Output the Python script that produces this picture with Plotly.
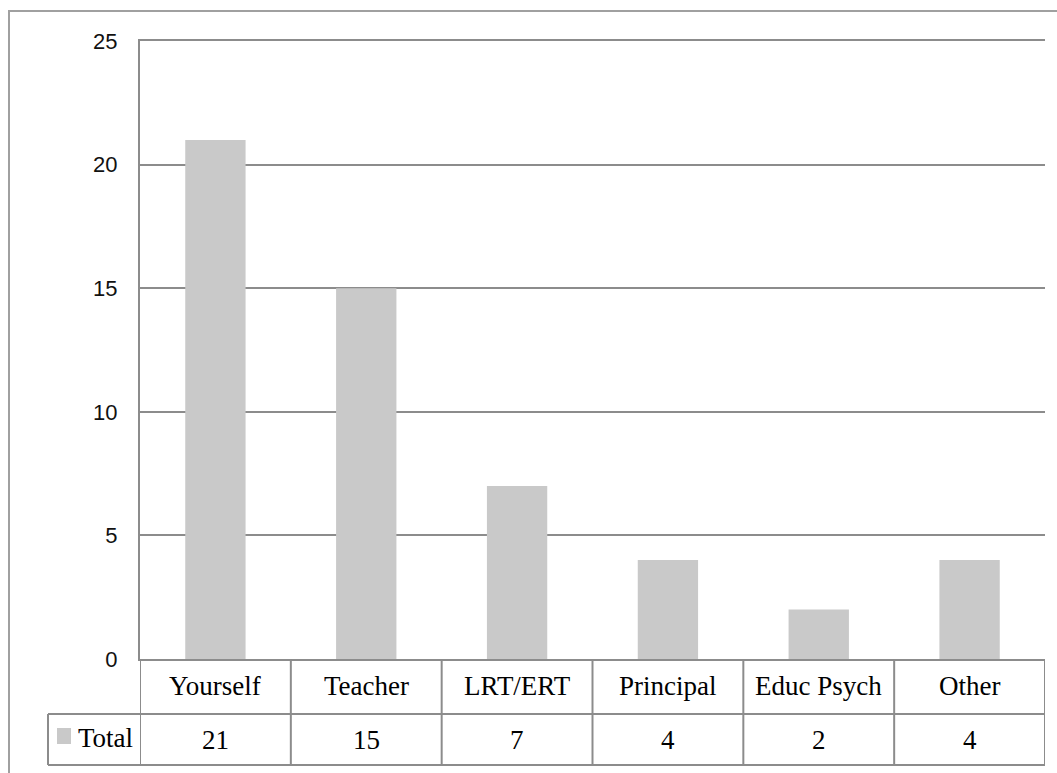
import plotly.graph_objects as go

categories = ["Yourself", "Teacher", "LRT/ERT", "Principal", "Educ Psych", "Other"]
totals = [21, 15, 7, 4, 2, 4]
series_name = "Total"
y_ticks = [0, 5, 10, 15, 20, 25]

BAR = "#c9c9c9"
GRID = "#8c8c8c"
FRAME = "#a0a0a0"
SERIF = "Liberation Serif, Times New Roman, serif"
SANS = "Liberation Sans, Arial, sans-serif"

W, H = 1057, 773
L, R, T, B = 140, 12, 41, 114
plot_h = H - T - B
plot_w = W - L - R
n = len(categories)

def py(px):  # pixel y -> paper y
    return (H - B - px) / plot_h

def px_(px):  # pixel x -> paper x
    return (px - L) / plot_w

xs = list(range(n))
fig = go.Figure(go.Bar(x=xs, y=totals, marker=dict(color=BAR, line=dict(width=0)),
                       width=0.4, name=series_name, hoverinfo="x+y"))

shapes = []
row1_bot = py(714)
row2_bot = py(765)
left_x = px_(48)
line = dict(color=GRID, width=2)
for i in range(n + 1):
    shapes.append(dict(type="line", xref="x", yref="paper", x0=i - 0.5, x1=i - 0.5,
                       y0=0, y1=row2_bot, line=line, layer="above"))
shapes.append(dict(type="line", xref="paper", yref="paper", x0=left_x, x1=1,
                   y0=row1_bot, y1=row1_bot, line=line))
shapes.append(dict(type="line", xref="paper", yref="paper", x0=left_x, x1=1,
                   y0=row2_bot, y1=row2_bot, line=line))
shapes.append(dict(type="line", xref="paper", yref="paper", x0=left_x, x1=left_x,
                   y0=row1_bot, y1=row2_bot, line=line))
shapes.append(dict(type="rect", xref="paper", yref="paper", x0=px_(57), x1=px_(71),
                   y0=py(744), y1=py(728), fillcolor=BAR, line=dict(width=0)))
fx = px_(9)
fy = py(11)
shapes.append(dict(type="path", xref="paper", yref="paper",
                   path=f"M {fx},-0.3 L {fx},{fy} L 1.2,{fy}",
                   line=dict(color=FRAME, width=2)))

FS = 27
annotations = []
for i, (c, v) in enumerate(zip(categories, totals)):
    annotations.append(dict(x=i, y=py(686), xref="x", yref="paper", text=c, showarrow=False,
                            font=dict(family=SERIF, size=FS, color="black"),
                            xanchor="center", yanchor="middle"))
    annotations.append(dict(x=i, y=py(740), xref="x", yref="paper", text=str(v), showarrow=False,
                            font=dict(family=SERIF, size=FS, color="black"),
                            xanchor="center", yanchor="middle"))
annotations.append(dict(x=px_(105), y=py(738), xref="paper", yref="paper", text=series_name,
                        showarrow=False, font=dict(family=SERIF, size=FS, color="black"),
                        xanchor="center", yanchor="middle"))

fig.update_layout(
    width=W, height=H,
    margin=dict(l=L, r=R, t=T, b=B),
    paper_bgcolor="white", plot_bgcolor="white",
    showlegend=False,
    shapes=shapes, annotations=annotations,
    xaxis=dict(range=[-0.5, n - 0.5], showticklabels=False, showgrid=False, zeroline=False,
               showline=True, mirror=True, linecolor=GRID, linewidth=2, ticks="",
               fixedrange=True),
    yaxis=dict(range=[0, 25], tickvals=y_ticks, showgrid=True, gridcolor=GRID, gridwidth=2,
               zeroline=False, showline=True, linecolor=GRID, linewidth=2, ticks="",
               ticklabelstandoff=16,
               tickfont=dict(family=SANS, size=22, color="#111111"), fixedrange=True),
)

fig.write_html("out.html")
